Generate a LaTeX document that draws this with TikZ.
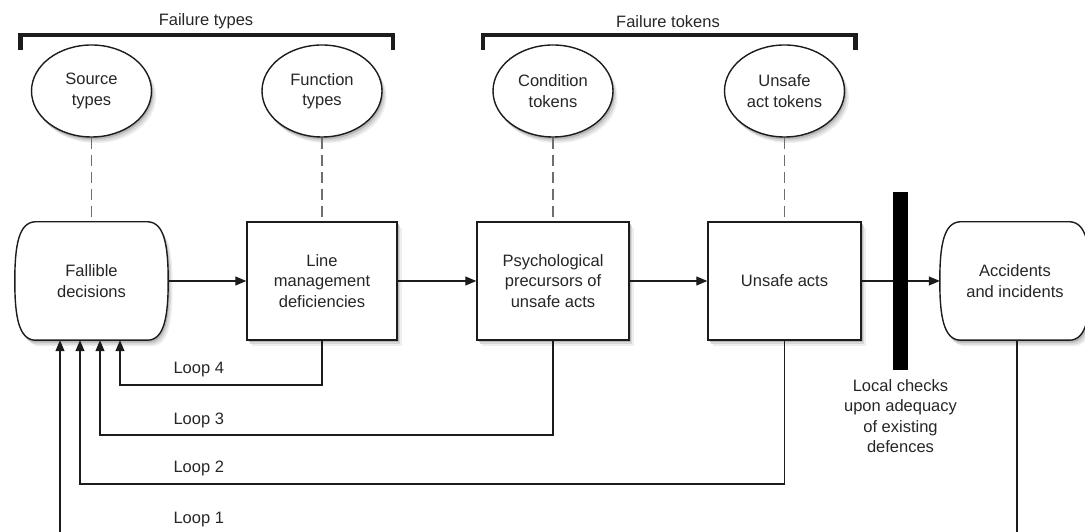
\documentclass[tikz,border=0pt]{standalone}
\usepackage{fontspec}
\setmainfont{Liberation Sans}
\usetikzlibrary{arrows.meta,shapes.geometric,calc}

\definecolor{txt}{HTML}{262626}
\definecolor{ink}{HTML}{1C1C1C}
\definecolor{dashc}{HTML}{6E6E6E}
\definecolor{shadeA}{HTML}{EEEEEE}
\definecolor{shadeB}{HTML}{D8D8D8}
\definecolor{shadeC}{HTML}{B8B8B8}

% outline path of a terminator shape: flat top and bottom, bowed sides
\newcommand{\termpath}[1]{%
    ($(#1.north west)+(20pt,0pt)$) -- ($(#1.north east)+(-20pt,0pt)$)
    .. controls ($(#1.north east)+(-4pt,-1pt)$) and ($(#1.east)+(0pt,36pt)$) .. (#1.east)
    .. controls ($(#1.east)+(0pt,-36pt)$) and ($(#1.south east)+(-4pt,1pt)$) .. ($(#1.south east)+(-20pt,0pt)$)
    -- ($(#1.south west)+(20pt,0pt)$)
    .. controls ($(#1.south west)+(4pt,1pt)$) and ($(#1.west)+(0pt,-36pt)$) .. (#1.west)
    .. controls ($(#1.west)+(0pt,36pt)$) and ($(#1.north west)+(4pt,-1pt)$) .. cycle}

% soft drop shadow: stacked grey copies, lightest farthest out
\newcommand{\softshadow}[1]{%
  \begin{scope}[shift={(4.5pt,-6pt)}]\fill[shadeA] #1;\end{scope}
  \begin{scope}[shift={(3pt,-4.5pt)}]\fill[shadeB] #1;\end{scope}
  \begin{scope}[shift={(1.5pt,-2.5pt)}]\fill[shadeC] #1;\end{scope}}
\newcommand{\termshadow}[1]{%
  \begin{scope}[transform canvas={shift={(4.5pt,-6pt)}}]\fill[shadeA] \termpath{#1};\end{scope}
  \begin{scope}[transform canvas={shift={(3pt,-4.5pt)}}]\fill[shadeB] \termpath{#1};\end{scope}
  \begin{scope}[transform canvas={shift={(1.5pt,-2.5pt)}}]\fill[shadeC] \termpath{#1};\end{scope}}

\tikzset{
  base/.style={font=\fontsize{16.5}{20.5}\selectfont, text=txt, align=center},
  termnode/.style={rectangle, minimum width=153pt, minimum height=118pt, draw=none, inner sep=0pt},
  termfill/.style={draw=ink, line width=1.4pt, fill=white},
  stagebox/.style={base, rectangle, minimum width=152pt, minimum height=118pt,
      draw=ink, line width=1.4pt, fill=white},
  typeoval/.style={base, ellipse, minimum width=120pt, minimum height=92pt, inner sep=0pt,
      draw=ink, line width=1.4pt, fill=white},
  heading/.style={base},
  brace/.style={draw=ink, line width=4.2pt, line join=miter, line cap=butt},
  link/.style={draw=dashc, line width=1.3pt, dash pattern=on 11pt off 6pt},
  flow/.style={draw=ink, line width=1.2pt, -{Triangle[length=11pt,width=9pt]}},
  feed/.style={draw=ink, line width=1.2pt},
  looplabel/.style={base, anchor=west},
  barrier/.style={rectangle, fill=black, minimum width=15pt, minimum height=178pt, inner sep=0pt},
}

\begin{document}
\begin{tikzpicture}[x=1pt,y=1pt]
\useasboundingbox (0,0) rectangle (1085,532);

% group brackets with their headings
\coordinate (b1l) at (20.5,482);
\coordinate (b1r) at (393,482);
\coordinate (b2l) at (483,482);
\coordinate (b2r) at (855.5,482);
\draw[brace] (b1l) |- ($(b1r)+(0,15)$) -- (b1r);
\draw[brace] (b2l) |- ($(b2r)+(0,15)$) -- (b2r);
\node[heading] (ftypes) at (206,510.5) {Failure types};
\node[heading] (ftokens) at (668,510.5) {Failure tokens};

% shadows beneath ovals and boxes
\softshadow{(91.5,441) ellipse [x radius=60, y radius=46]}
\softshadow{(322,441) ellipse [x radius=60, y radius=46]}
\softshadow{(553,441) ellipse [x radius=60, y radius=46]}
\softshadow{(784.5,441) ellipse [x radius=60, y radius=46]}
\softshadow{(247,192) rectangle (397,310)}
\softshadow{(477,192) rectangle (629,310)}
\softshadow{(708,192) rectangle (861,310)}

% ovals
\node[typeoval] (src)  at (91.5,441) {Source\\types};
\node[typeoval] (fun)  at (322,441)  {Function\\types};
\node[typeoval] (cond) at (553,441)  {Condition\\tokens};
\node[typeoval] (uat)  at (784.5,441){Unsafe\\act tokens};

% main chain: terminator frames first, their captions on top
\node[termnode] (fd) at (91.5,251) {};
\termshadow{fd}
\path[termfill] \termpath{fd};
\node[base] (fdtext) at (fd.center) {Fallible\\decisions};
\node[stagebox, minimum width=150pt] (lm) at (322,251) {Line\\management\\deficiencies};
\node[stagebox] (pp) at (553,251) {Psychological\\precursors of\\unsafe acts};
\node[stagebox, minimum width=153pt] (ua) at (784.5,251) {Unsafe acts};
\node[termnode, minimum width=150pt] (acc) at (1015,251) {};
\termshadow{acc}
\path[termfill] \termpath{acc};
\node[base] (acctext) at (acc.center) {Accidents\\and incidents};

% dashed links between ovals and stages
\draw[link] (src.south) -- (fd.north);
\draw[link] (fun.south) -- (lm.north);
\draw[link] (cond.south) -- (pp.north);
\draw[link] (uat.south) -- (ua.north);

% forward arrows
\draw[flow] (fd.east) -- (lm.west);
\draw[flow] (lm.east) -- (pp.west);
\draw[flow] (pp.east) -- (ua.west);
\draw[flow] (ua.east) -- (acc.west);

% defences barrier
\node[barrier] (bar) at (900.5,251) {};
\node[base, anchor=north, inner sep=0pt] (checks) at ($(bar.south)+(0,-9pt)$)
  {Local checks\\upon adequacy\\of existing\\defences};

% feedback loops
\coordinate (l4c) at (120,147);
\coordinate (l3c) at (100,97);
\coordinate (l2c) at (80,48);
\coordinate (l1l) at (60,0);
\coordinate (l1r) at (1017,0);
\draw[flow] (lm.south) |- (l4c) -- (l4c |- fd.south);
\draw[flow] (pp.south) |- (l3c) -- (l3c |- fd.south);
\draw[flow] (ua.south) |- (l2c) -- (l2c |- fd.south);
\draw[flow] (l1l) -- (l1l |- fd.south);
\draw[feed] (l1r |- acc.south) -- (l1r);

\node[looplabel] (lab4) at (170,162) {Loop 4};
\node[looplabel] (lab3) at (170,112) {Loop 3};
\node[looplabel] (lab2) at (170,64)  {Loop 2};
\node[looplabel] (lab1) at (170,12)  {Loop 1};
\end{tikzpicture}
\end{document}
